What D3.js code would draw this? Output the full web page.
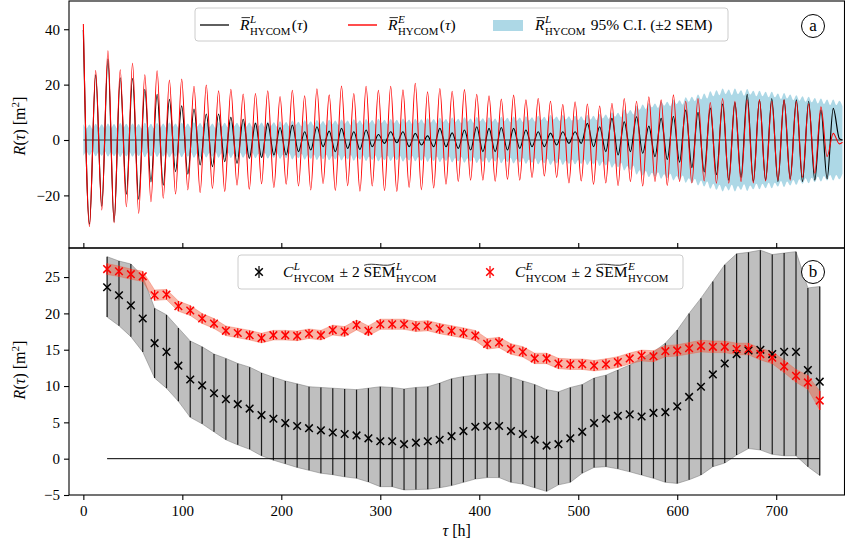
<!DOCTYPE html>
<html>
<head>
<meta charset="utf-8">
<script src="https://cdn.jsdelivr.net/npm/d3@7"></script>
<style>
body { margin: 0; background: #fff; }
svg { display: block; }
text { white-space: pre; }
</style>
</head>
<body>
<svg id="chart" width="845" height="546"></svg>
<script>
// ---------- data ----------
// panel (a): extrema of the mean autocovariance, one peak and one trough per M2 cycle
const halfPeriod = 6.21; // h, half of the M2 tidal period
const redPeak = [41.9, 25.1, 32.2, 25.4, 27.7, 23.6, 25.0, 21.7, 22.0, 19.4,
  19.9, 17.8, 18.3, 16.6, 16.8, 17.8, 15.7, 18.0, 16.0, 18.5,
  16.3, 19.5, 16.8, 19.4, 18.0, 19.4, 18.1, 20.5, 17.4, 18.6,
  17.6, 18.2, 16.5, 16.0, 14.8, 16.2, 14.5, 15.0, 14.0, 12.8,
  13.8, 13.0, 12.3, 13.3, 15.0, 14.0, 15.6, 14.5, 16.3, 14.0,
  15.0, 13.5, 15.0, 14.0, 14.5, 14.5, 14.0, 14.5, 13.9, 13.0,
  12.0, 2.4];
const redTrough = [-31.3, -25.3, -29.9, -24.1, -26.5, -22.3, -21.0, -19.5, -18.0, -19.0,
  -17.5, -18.6, -16.3, -17.8, -15.8, -17.2, -16.0, -16.6, -18.0, -15.8,
  -18.2, -16.5, -18.5, -16.6, -18.3, -18.6, -17.1, -18.0, -17.3, -16.0,
  -15.0, -14.5, -14.5, -14.9, -14.2, -14.5, -13.5, -13.0, -13.5, -15.5,
  -14.8, -16.0, -15.5, -16.5, -15.0, -16.6, -15.0, -16.4, -15.0, -15.5,
  -14.8, -15.6, -15.6, -15.0, -15.5, -14.8, -14.5, -14.5, -13.5, -12.0,
  -6.0, -1.4];
const blackPeak = [39.7, 23.5, 29.2, 22.5, 22.3, 18.3, 16.5, 14.7, 12.3, 11.2,
  9.4, 9.4, 8.2, 7.5, 6.0, 6.0, 4.5, 5.4, 3.0, 4.8,
  3.2, 4.2, 3.0, 3.6, 2.0, 3.0, 3.0, 2.4, 1.5, 4.2,
  2.6, 3.6, 4.8, 4.2, 4.5, 4.2, 3.6, 3.0, 2.5, 3.0,
  3.0, 6.0, 4.8, 7.8, 6.6, 8.4, 5.0, 7.8, 8.5, 10.8,
  10.0, 11.5, 13.0, 13.5, 16.5, 14.5, 15.0, 14.5, 14.5, 14.0,
  10.8, 11.4];
const blackTrough = [-30.4, -23.9, -29.5, -19.6, -21.4, -15.1, -16.3, -11.4, -12.3, -9.0,
  -9.6, -7.8, -8.4, -6.6, -6.3, -5.4, -5.4, -4.2, -3.6, -2.4,
  -4.2, -3.0, -3.4, -2.4, -1.2, -1.0, -2.4, -1.8, -2.4, -2.4,
  -3.0, -3.6, -4.2, -4.2, -3.6, -3.0, -2.4, -2.4, -1.8, -1.2,
  -1.2, -2.4, -4.2, -5.4, -4.2, -4.8, -6.0, -7.0, -8.0, -10.0,
  -11.5, -12.5, -14.5, -13.5, -15.0, -14.5, -15.0, -14.0, -15.0, -14.5,
  -14.0, 0.5];
const tailTau = 767, redTail = -0.8, blackTail = 0.0;

// ±2 SEM band: crests and valleys of its scalloped edge
const bandCrest = [5.8, 5.6, 5.9, 5.7, 6.0, 5.8, 6.1, 5.9, 6.0, 5.8,
  6.2, 5.9, 6.1, 6.0, 6.3, 6.0, 6.2, 6.0, 6.4, 6.1,
  6.3, 6.0, 6.4, 6.2, 6.5, 6.2, 6.4, 6.3, 6.6, 6.3,
  6.7, 6.4, 6.8, 6.5, 7.0, 6.6, 7.1, 6.8, 7.2, 6.9,
  7.3, 7.0, 7.4, 7.0, 7.5, 7.1, 7.6, 7.2, 7.7, 7.3,
  7.6, 7.3, 7.8, 7.4, 7.7, 7.5, 7.9, 7.6, 8.0, 7.6,
  8.1, 7.7, 8.2, 7.8, 8.3, 7.9, 8.2, 7.8, 8.4, 8.0,
  8.5, 8.1, 8.6, 8.2, 8.8, 8.4, 9.0, 8.5, 9.0, 8.6,
  8.8, 8.6, 9.0, 8.8, 9.4, 9.2, 10.0, 9.8, 11.0, 10.8,
  12.5, 12.8, 13.4, 13.2, 14.0, 13.8, 14.6, 14.4, 15.4, 15.6,
  16.4, 16.8, 17.6, 18.0, 18.6, 18.2, 18.6, 18.0, 18.4, 17.8,
  17.8, 17.4, 17.4, 16.8, 17.0, 16.4, 16.2, 15.8, 15.6, 15.2,
  15.0, 14.6, 14.6, 14.2];
const bandValley = [4.2, 4.0, 4.3, 4.1, 4.4, 4.2, 4.5, 4.3, 4.4, 4.2,
  4.5, 4.3, 4.5, 4.4, 4.7, 4.4, 4.6, 4.4, 4.8, 4.5,
  4.7, 4.4, 4.8, 4.6, 4.9, 4.6, 4.8, 4.7, 5.0, 4.7,
  5.1, 4.8, 5.2, 4.9, 5.4, 5.0, 5.5, 5.2, 5.6, 5.3,
  5.7, 5.4, 5.8, 5.4, 5.9, 5.5, 6.0, 5.6, 6.1, 5.7,
  6.0, 5.7, 6.2, 5.8, 6.1, 5.9, 6.3, 6.0, 6.4, 6.0,
  6.5, 6.1, 6.6, 6.2, 6.7, 6.3, 6.6, 6.2, 6.8, 6.4,
  6.9, 6.5, 7.0, 6.6, 7.2, 6.8, 7.4, 6.9, 7.4, 7.0,
  7.2, 7.0, 7.4, 7.2, 7.8, 7.6, 8.4, 8.2, 9.4, 9.2,
  10.9, 11.2, 11.8, 11.6, 12.4, 12.2, 13.0, 12.8, 13.8, 14.0,
  14.6, 15.0, 15.8, 16.2, 16.6, 16.2, 16.6, 16.0, 16.4, 15.8,
  15.8, 15.4, 15.4, 14.8, 15.0, 14.4, 14.2, 13.8, 13.6, 13.2,
  13.0, 12.6, 12.6, 12.2];

// panel (b): binned estimates every 12 h
const tauB = d3.range(24, 745, 12);
const blackC = [23.6, 22.5, 21.1, 19.3, 15.9, 14.7, 12.8, 10.9, 10.1, 9.0,
  8.2, 7.5, 6.9, 6.0, 5.5, 4.9, 4.5, 4.2, 3.9, 3.6,
  3.4, 3.2, 2.8, 2.4, 2.4, 2.0, 2.2, 2.4, 2.6, 3.1,
  3.8, 4.4, 4.5, 4.5, 3.8, 3.4, 2.6, 1.8, 2.0, 2.8,
  3.7, 4.9, 5.5, 5.9, 6.1, 5.8, 6.3, 6.4, 7.2, 8.5,
  9.9, 11.6, 13.1, 14.4, 14.9, 15.0, 14.4, 14.7, 14.7, 12.2,
  10.6];
const blackHi = [27.8, 27.2, 26.8, 25.1, 20.7, 19.8, 18.0, 16.2, 15.4, 14.4,
  13.8, 13.1, 12.6, 11.8, 11.2, 10.7, 10.3, 9.9, 9.8, 9.7,
  9.6, 9.5, 9.7, 9.9, 9.8, 9.6, 9.8, 9.9, 10.4, 11.0,
  11.3, 11.5, 11.7, 11.7, 11.2, 10.7, 10.2, 9.5, 9.2, 9.8,
  10.2, 11.1, 11.5, 12.2, 12.9, 13.8, 14.7, 15.9, 17.7, 20.0,
  22.1, 24.4, 26.7, 28.2, 28.4, 28.7, 28.1, 28.3, 28.5, 23.5,
  23.7];
const blackLo = [19.5, 18.3, 16.8, 14.7, 11.1, 9.7, 7.9, 5.7, 4.8, 3.7,
  2.6, 1.9, 1.3, 0.4, -0.2, -0.7, -1.2, -1.6, -2.0, -2.2,
  -2.5, -2.7, -3.2, -3.85, -3.85, -4.3, -4.25, -4.2, -4.0, -3.7,
  -3.25, -2.8, -2.6, -2.6, -3.25, -3.5, -4.0, -4.5, -3.6, -3.25,
  -2.0, -1.2, -1.1, -1.4, -1.8, -2.25, -2.7, -3.25, -3.4, -2.9,
  -2.25, -1.1, -0.6, 0.5, 1.4, 1.2, 0.6, 0.4, 0.4, -1.1,
  -2.3];
const redC = [26.1, 25.8, 25.4, 25.1, 22.5, 22.6, 21.0, 20.4, 19.3, 18.6,
  17.6, 17.3, 17.0, 16.6, 17.0, 17.0, 16.9, 17.2, 17.0, 17.7,
  17.5, 18.4, 17.6, 18.5, 18.5, 18.5, 18.2, 18.3, 17.9, 17.6,
  17.3, 16.95, 15.8, 16.0, 15.1, 14.7, 13.8, 13.8, 13.1, 13.0,
  13.0, 12.8, 13.0, 13.3, 13.8, 14.2, 14.1, 14.8, 14.9, 15.2,
  15.5, 15.4, 15.4, 15.1, 15.1, 14.4, 13.9, 12.7, 11.4, 10.5,
  8.0];
const redErr = [0.75, 0.72, 0.7, 0.7, 0.72, 0.7, 0.7, 0.68, 0.68, 0.68,
  0.66, 0.66, 0.66, 0.66, 0.66, 0.66, 0.66, 0.66, 0.66, 0.68,
  0.68, 0.68, 0.68, 0.7, 0.7, 0.7, 0.7, 0.7, 0.7, 0.7,
  0.7, 0.7, 0.72, 0.72, 0.72, 0.72, 0.72, 0.72, 0.72, 0.72,
  0.72, 0.72, 0.74, 0.74, 0.75, 0.75, 0.76, 0.76, 0.78, 0.78,
  0.8, 0.8, 0.8, 0.8, 0.8, 0.8, 0.82, 0.85, 0.88, 0.95,
  1.3];

const xTicks = [0, 100, 200, 300, 400, 500, 600, 700];
const yTicksA = [-20, 0, 20, 40];
const yTicksB = [-5, 0, 5, 10, 15, 20, 25];

// ---------- layout ----------
const FONT = "'Liberation Serif', 'DejaVu Serif', serif";
const svg = d3.select("#chart");
const X0 = 69, X1 = 844.5;
const x = d3.scaleLinear().domain([-14.5, 769]).range([X0, X1]);
const yA = d3.scaleLinear().domain([-39.0, 50.2]).range([248, 1]);
const yB = d3.scaleLinear().domain([-5, 29]).range([495, 248]);
const fmt = d => d < 0 ? "\u2212" + Math.abs(d) : String(d);

// small math-text helper: parts are {t, it, over, tilde, size, dy} or {sup, sub}
function mathText(g, x0, y0, parts, base) {
  base = base || 15.5;
  let cx = x0;
  parts.forEach(p => {
    if (p.sup !== undefined || p.sub !== undefined) {
      let w = 0;
      if (p.sup !== undefined) {
        const s = g.append("text").attr("x", cx + 0.5).attr("y", y0 - base * 0.45)
          .attr("font-size", base * 0.72).attr("font-style", "italic").text(p.sup);
        w = Math.max(w, s.node().getComputedTextLength() + 0.5);
      }
      if (p.sub !== undefined) {
        const s = g.append("text").attr("x", cx + 0.5).attr("y", y0 + base * 0.3)
          .attr("font-size", base * 0.7).text(p.sub);
        w = Math.max(w, s.node().getComputedTextLength() + 0.5);
      }
      cx += w + 1.5;
    } else {
      const sz = p.size || base;
      const t = g.append("text").attr("x", cx).attr("y", y0 + (p.dy || 0))
        .attr("font-size", sz).attr("font-style", p.it ? "italic" : "normal").text(p.t);
      const w = t.node().getComputedTextLength();
      if (p.over) {
        g.append("line").attr("x1", cx + 1.5).attr("x2", cx + w + 0.5)
          .attr("y1", y0 - base * 0.8).attr("y2", y0 - base * 0.8)
          .attr("stroke", "#000").attr("stroke-width", 0.8);
      }
      if (p.tilde) {
        const ty = y0 - base * 0.82;
        g.append("path")
          .attr("d", `M${cx + 0.5},${ty + 1} C${cx + w * 0.3},${ty - 2.5} ${cx + w * 0.7},${ty + 4} ${cx + w - 0.5},${ty - 1}`)
          .attr("fill", "none").attr("stroke", "#000").attr("stroke-width", 0.8);
      }
      cx += w;
    }
  });
  return cx - x0;
}

const root = svg.append("g").attr("font-family", FONT).attr("fill", "#000");

// ---------- panel (a) ----------
const gA = root.append("g");
const lineTau = d3.range(0, redPeak.length * 2).map(i => i * halfPeriod);
function zig(peaks, troughs, tail) {
  const pts = lineTau.map((t, i) => [t, i % 2 === 0 ? peaks[i / 2] : troughs[(i - 1) / 2]]);
  pts.push([tailTau, tail]);
  return pts;
}
const bandTau = d3.range(0, bandCrest.length * 2).map(i => i * halfPeriod / 2);
const bandPts = bandTau.map((t, i) => [t, i % 2 === 0 ? bandCrest[i / 2] : bandValley[(i - 1) / 2]]);

gA.append("path").datum(bandPts)
  .attr("fill", "#add8e6")
  .attr("d", d3.area().x(d => x(d[0])).y0(d => yA(-d[1])).y1(d => yA(d[1])).curve(d3.curveMonotoneX));

gA.append("line").attr("x1", x(0)).attr("x2", x(tailTau)).attr("y1", yA(0)).attr("y2", yA(0))
  .attr("stroke", "#3a3a3a").attr("stroke-width", 1.2);

const lineA = d3.line().x(d => x(d[0])).y(d => yA(d[1])).curve(d3.curveMonotoneX);
gA.append("path").datum(zig(blackPeak, blackTrough, blackTail))
  .attr("fill", "none").attr("stroke", "#000").attr("stroke-width", 1.15).attr("d", lineA);
gA.append("path").datum(zig(redPeak, redTrough, redTail))
  .attr("fill", "none").attr("stroke", "#ff0000").attr("stroke-width", 1.05).attr("d", lineA);

// axes (a)
gA.append("g").attr("transform", `translate(${X0},0)`)
  .call(d3.axisLeft(yA).tickValues(yTicksA).tickFormat(fmt).tickSize(5).tickPadding(4));
gA.append("g").attr("transform", "translate(0,248)")
  .call(d3.axisTop(x).tickValues(xTicks).tickFormat("").tickSize(5));

// ---------- panel (b) ----------
const gB = root.append("g");
gB.append("path").datum(tauB.map((t, i) => [t, blackLo[i], blackHi[i]]))
  .attr("fill", "#808080").attr("fill-opacity", 0.5)
  .attr("stroke", "#808080").attr("stroke-opacity", 0.55).attr("stroke-width", 1)
  .attr("d", d3.area().x(d => x(d[0])).y0(d => yB(d[1])).y1(d => yB(d[2])));
gB.selectAll(".ebk").data(tauB).join("line")
  .attr("x1", d => x(d)).attr("x2", d => x(d))
  .attr("y1", (d, i) => yB(blackLo[i])).attr("y2", (d, i) => yB(blackHi[i]))
  .attr("stroke", "#000").attr("stroke-opacity", 0.85).attr("stroke-width", 1.2);

gB.append("line").attr("x1", x(tauB[0])).attr("x2", x(tauB[tauB.length - 1]))
  .attr("y1", yB(0)).attr("y2", yB(0)).attr("stroke", "#000").attr("stroke-width", 1);

gB.append("path").datum(tauB.map((t, i) => [t, redC[i] - redErr[i], redC[i] + redErr[i]]))
  .attr("fill", "#f05a3c").attr("fill-opacity", 0.45)
  .attr("stroke", "#f05a3c").attr("stroke-opacity", 0.35).attr("stroke-width", 1)
  .attr("d", d3.area().x(d => x(d[0])).y0(d => yB(d[1])).y1(d => yB(d[2])));
gB.selectAll(".erd").data(tauB).join("line")
  .attr("x1", d => x(d)).attr("x2", d => x(d))
  .attr("y1", (d, i) => yB(redC[i] - redErr[i])).attr("y2", (d, i) => yB(redC[i] + redErr[i]))
  .attr("stroke", "#ff0000").attr("stroke-width", 1.2);

const xMark = "M-3.8,-3.8L3.8,3.8M-3.8,3.8L3.8,-3.8";
gB.selectAll(".mk").data(tauB).join("path")
  .attr("transform", (d, i) => `translate(${x(d)},${yB(blackC[i])})`)
  .attr("d", xMark).attr("fill", "none").attr("stroke", "#000").attr("stroke-width", 1.5);
gB.selectAll(".mr").data(tauB).join("path")
  .attr("transform", (d, i) => `translate(${x(d)},${yB(redC[i])})`)
  .attr("d", xMark).attr("fill", "none").attr("stroke", "#ff0000").attr("stroke-width", 1.5);

gB.append("g").attr("transform", `translate(${X0},0)`)
  .call(d3.axisLeft(yB).tickValues(yTicksB).tickFormat(fmt).tickSize(5).tickPadding(4));
gB.append("g").attr("transform", "translate(0,495)")
  .call(d3.axisBottom(x).tickValues(xTicks).tickFormat(fmt).tickSize(5).tickPadding(5));

// axis styling
root.selectAll(".domain").remove();
root.selectAll(".tick line").attr("stroke", "#000").attr("stroke-width", 1.1);
root.selectAll(".tick text").attr("font-family", FONT).attr("font-size", 15).attr("fill", "#000");

// spines
[[1, 248], [248, 495]].forEach(([a, b]) => {
  root.append("rect").attr("x", X0).attr("y", a).attr("width", X1 - X0).attr("height", b - a)
    .attr("fill", "none").attr("stroke", "#000").attr("stroke-width", 1.1);
});

// ---------- labels ----------
function yLabel(cy) {
  const g = root.append("g");
  const w = mathText(g, 0, 0, [{ t: "R", it: true }, { t: "(" }, { t: "\u03c4", it: true }, { t: ") [m" },
    { t: "2", size: 11, dy: -6.5 }, { t: "]" }], 16);
  g.attr("transform", `translate(25,${cy}) rotate(-90) translate(${-w / 2},0)`);
}
yLabel(126);
yLabel(370);
{
  const g = root.append("g");
  const w = mathText(g, 0, 0, [{ t: "\u03c4", it: true }, { t: " [h]" }], 16);
  g.attr("transform", `translate(${(X0 + X1) / 2 - w / 2},536)`);
}

// legend (a)
root.append("rect").attr("x", 195).attr("y", 8).attr("width", 533).attr("height", 33).attr("rx", 3)
  .attr("fill", "#fff").attr("fill-opacity", 0.8).attr("stroke", "#cccccc");
root.append("line").attr("x1", 200).attr("x2", 229).attr("y1", 25).attr("y2", 25)
  .attr("stroke", "#1a1a1a").attr("stroke-width", 1.4);
mathText(root.append("g"), 240, 30, [{ t: "R", it: true, over: true }, { sup: "L", sub: "HYCOM" },
  { t: "(" }, { t: "\u03c4", it: true }, { t: ")" }]);
root.append("line").attr("x1", 348).attr("x2", 377).attr("y1", 25).attr("y2", 25)
  .attr("stroke", "#ff0000").attr("stroke-width", 1.4);
mathText(root.append("g"), 388, 30, [{ t: "R", it: true, over: true }, { sup: "E", sub: "HYCOM" },
  { t: "(" }, { t: "\u03c4", it: true }, { t: ")" }]);
root.append("rect").attr("x", 493).attr("y", 20).attr("width", 30).attr("height", 11).attr("fill", "#add8e6");
mathText(root.append("g"), 535, 30, [{ t: "R", it: true, over: true }, { sup: "L", sub: "HYCOM" },
  { t: " 95% C.I. (\u00b12 SEM)" }]);

// legend (b)
root.append("rect").attr("x", 238).attr("y", 255).attr("width", 445).attr("height", 34).attr("rx", 3)
  .attr("fill", "#fff").attr("fill-opacity", 0.8).attr("stroke", "#cccccc");
function legMarker(cx, cy, col) {
  root.append("line").attr("x1", cx).attr("x2", cx).attr("y1", cy - 6).attr("y2", cy + 6)
    .attr("stroke", col).attr("stroke-width", 1.2);
  root.append("path").attr("transform", `translate(${cx},${cy})`).attr("d", xMark)
    .attr("fill", "none").attr("stroke", col).attr("stroke-width", 1.5);
}
legMarker(259, 272, "#000");
mathText(root.append("g"), 283, 277, [{ t: "C", it: true }, { sup: "L", sub: "HYCOM" },
  { t: " \u00b1 2 " }, { t: "SEM", tilde: true }, { sup: "L", sub: "HYCOM" }]);
legMarker(490, 272, "#ff0000");
mathText(root.append("g"), 515, 277, [{ t: "C", it: true }, { sup: "E", sub: "HYCOM" },
  { t: " \u00b1 2 " }, { t: "SEM", tilde: true }, { sup: "E", sub: "HYCOM" }]);

// panel tags
[[813, 26, "a"], [813, 272, "b"]].forEach(([cx, cy, s]) => {
  root.append("circle").attr("cx", cx).attr("cy", cy).attr("r", 11.5)
    .attr("fill", "#fff").attr("stroke", "#000").attr("stroke-width", 1);
  root.append("text").attr("x", cx).attr("y", cy + 5).attr("text-anchor", "middle")
    .attr("font-size", 17).text(s);
});
</script>
</body>
</html>
